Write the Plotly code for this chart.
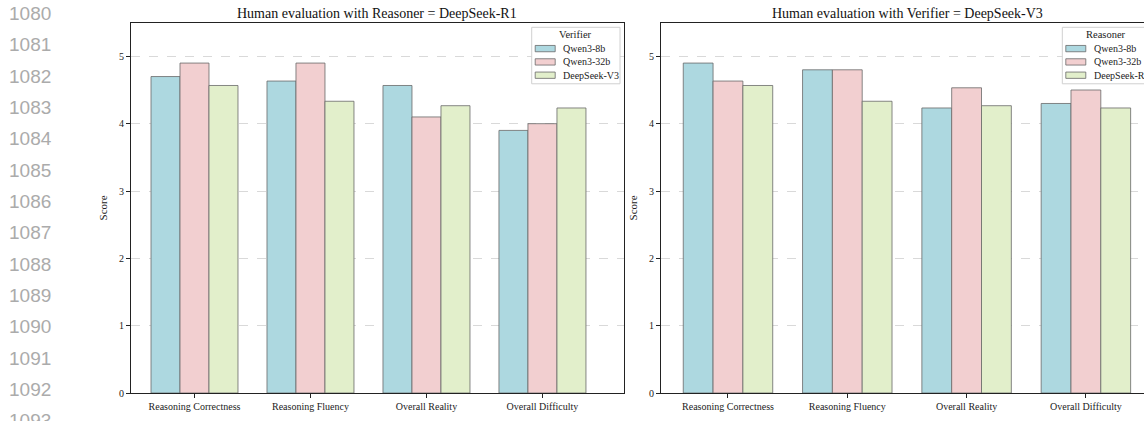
import plotly.graph_objects as go

W, H = 1144, 421

categories = ["Reasoning Correctness", "Reasoning Fluency", "Overall Reality", "Overall Difficulty"]
models = ["Qwen3-8b", "Qwen3-32b"]
left_third = "DeepSeek-V3"
right_third = "DeepSeek-R1"

# Reasoner = DeepSeek-R1, varying Verifier
left_qwen8 = [4.70, 4.633, 4.567, 3.90]
left_qwen32 = [4.90, 4.90, 4.10, 4.00]
left_ds = [4.567, 4.333, 4.267, 4.233]

# Verifier = DeepSeek-V3, varying Reasoner
right_qwen8 = [4.90, 4.80, 4.233, 4.30]
right_qwen32 = [4.633, 4.80, 4.533, 4.50]
right_ds = [4.567, 4.333, 4.267, 4.233]

line_numbers = ["1080", "1081", "1082", "1083", "1084", "1085", "1086",
                "1087", "1088", "1089", "1090", "1091", "1092", "1093"]

y_ticks = [0, 1, 2, 3, 4, 5]

colors = ["#ADD8E0", "#F2CFD0", "#E2EFCB"]
edge = "rgba(105,105,105,0.8)"
serif = "Liberation Serif, Times New Roman, serif"

fig = go.Figure()

left_series = [(models[0], left_qwen8), (models[1], left_qwen32), (left_third, left_ds)]
right_series = [(models[0], right_qwen8), (models[1], right_qwen32), (right_third, right_ds)]

for i, (name, vals) in enumerate(left_series):
    fig.add_trace(go.Bar(
        x=categories, y=vals, name=name, xaxis="x", yaxis="y",
        offsetgroup=str(i), showlegend=False,
        marker=dict(color=colors[i], line=dict(color=edge, width=1)),
    ))
for i, (name, vals) in enumerate(right_series):
    fig.add_trace(go.Bar(
        x=categories, y=vals, name=name, xaxis="x2", yaxis="y2",
        offsetgroup=str(i), showlegend=False,
        marker=dict(color=colors[i], line=dict(color=edge, width=1)),
    ))

def px(x):
    return x / W

def py(y):
    return 1 - y / H

ydom = [py(398.7), py(23)]

axis_common = dict(
    showline=True, linecolor="#222", linewidth=1.2,
    ticks="outside", ticklen=3.5, tickwidth=1, tickcolor="#222",
    tickfont=dict(family=serif, size=10, color="#222"),
    zeroline=False,
)

fig.update_layout(
    width=W, height=H,
    margin=dict(l=0, r=0, t=0, b=0),
    paper_bgcolor="white", plot_bgcolor="white",
    barmode="group", bargap=0.25, bargroupgap=0,
    showlegend=False,
    xaxis=dict(domain=[px(130.7), px(624)], range=[-0.55, 3.703],
               showgrid=False, mirror=True, anchor="y", **axis_common),
    yaxis=dict(domain=ydom, range=[0, 5.5], tickvals=y_ticks, anchor="x",
               mirror=True, showgrid=True, gridcolor="#d9d9d9", griddash="dash", gridwidth=0.8,
               title=dict(text="Score", font=dict(family=serif, size=11, color="#222"), standoff=9),
               **axis_common),
    xaxis2=dict(domain=[px(660.7), 1.0], range=[-0.564, 3.487],
                showgrid=False, mirror=True, anchor="y2", **axis_common),
    yaxis2=dict(domain=ydom, range=[0, 5.5], tickvals=y_ticks, anchor="x2",
                mirror=False, showgrid=True, gridcolor="#d9d9d9", griddash="dash", gridwidth=0.8,
                title=dict(text="Score", font=dict(family=serif, size=11, color="#222"), standoff=9),
                **axis_common),
)

annotations = [
    dict(text="Human evaluation with Reasoner = DeepSeek-R1", xref="paper", yref="paper",
         x=px((130.7 + 624) / 2), y=py(14), xanchor="center", yanchor="middle",
         showarrow=False, font=dict(family=serif, size=14, color="#111")),
    dict(text="Human evaluation with Verifier = DeepSeek-V3", xref="paper", yref="paper",
         x=px((660.7 + 1154) / 2), y=py(14), xanchor="center", yanchor="middle",
         showarrow=False, font=dict(family=serif, size=14, color="#111")),
]
for k, ln in enumerate(line_numbers):
    annotations.append(dict(
        text=ln, xref="paper", yref="paper", x=px(7), y=py(13.5 + 31.8 * k),
        xanchor="left", yanchor="middle", showarrow=False,
        font=dict(family="Liberation Sans, Arial, sans-serif", size=19, color="#ababab"),
    ))

shapes = []

def add_legend(box_left, title, series):
    box_w, top, bottom = 88.3, 27.7, 85.0
    shapes.append(dict(type="rect", xref="paper", yref="paper", layer="above",
                       x0=px(box_left), x1=px(box_left + box_w), y0=py(bottom), y1=py(top),
                       fillcolor="white", line=dict(color="#d0d0d0", width=1)))
    annotations.append(dict(text=title, xref="paper", yref="paper",
                            x=px(box_left + box_w / 2), y=py(35.5), xanchor="center", yanchor="middle",
                            showarrow=False, font=dict(family=serif, size=10.5, color="#222")))
    for j, (name, _vals) in enumerate(series):
        yc = 49.3 + 13.5 * j
        shapes.append(dict(type="rect", xref="paper", yref="paper", layer="above",
                           x0=px(box_left + 3.5), x1=px(box_left + 23.5),
                           y0=py(yc + 3.2), y1=py(yc - 3.2),
                           fillcolor=colors[j], line=dict(color=edge, width=1)))
        annotations.append(dict(text=name, xref="paper", yref="paper",
                                x=px(box_left + 29.5), y=py(yc), xanchor="left", yanchor="middle",
                                showarrow=False, font=dict(family=serif, size=10, color="#222")))

add_legend(531.7, "Verifier", left_series)
add_legend(1062.3, "Reasoner", right_series)

fig.update_layout(annotations=annotations, shapes=shapes)

fig.write_html("out.html",
               config={"displayModeBar": False},
               post_script="document.body.style.margin='0';document.body.style.overflow='hidden';")
